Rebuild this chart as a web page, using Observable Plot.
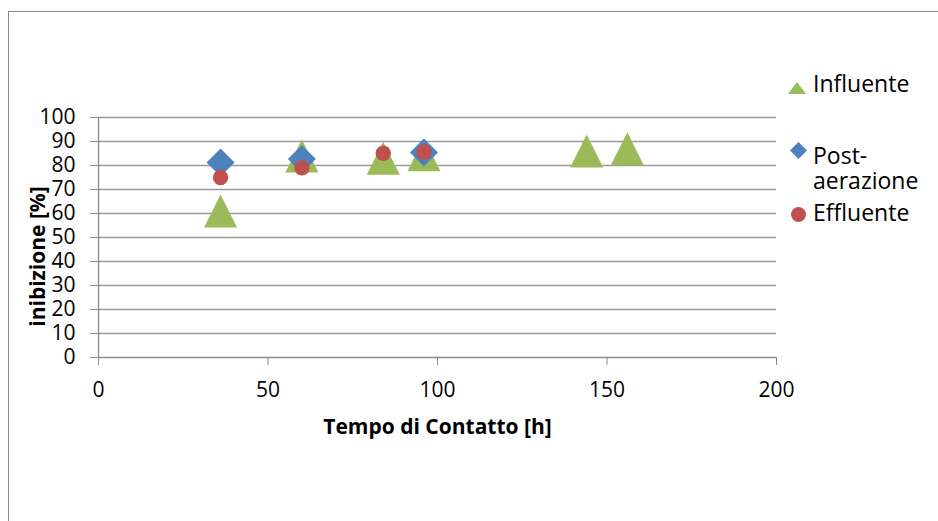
<!DOCTYPE html>
<html>
<head>
<meta charset="utf-8">
<script src="https://cdn.jsdelivr.net/npm/d3@7"></script>
<script src="https://cdn.jsdelivr.net/npm/@observablehq/plot@0.6"></script>
<style>
  html, body { margin: 0; padding: 0; background: #fff; }
  #wrap { position: relative; width: 938px; height: 521px; overflow: hidden; font-family: "Open Sans", sans-serif; }
  #frame { position: absolute; left: 8px; top: 11px; width: 2000px; height: 2000px; border: 1.5px solid #8a8a8a; box-sizing: border-box; }
  #chart { position: absolute; left: 0; top: 0; }
  .lg { position: absolute; left: 813px; font-size: 23px; line-height: 25px; color: #000; white-space: nowrap; }
  .ic { position: absolute; }
</style>
</head>
<body>
<div id="wrap">
  <div id="frame"></div>
  <div id="chart"></div>
</div>
<script>
// ---- data ----
const xTicks = [0, 50, 100, 150, 200];
const yTicks = [0, 10, 20, 30, 40, 50, 60, 70, 80, 90, 100];

const influenteX = [36, 60, 84, 96, 144, 156];
const influenteY = [61, 84, 83, 84.5, 86, 87];

const postX = [36, 60, 96];
const postY = [81.3, 82.7, 85.4];

const effluenteX = [36, 60, 84, 96];
const effluenteY = [75, 79, 85.1, 85.6];

const seriesNames = ["Influente", "Post-aerazione", "Effluente"];
const seriesColors = ["#9BBB59", "#4F81BD", "#C0504D"];

// ---- build tables ----
const zip = (xs, ys) => xs.map((x, i) => ({x, y: ys[i]}));
const influente = zip(influenteX, influenteY);
const post = zip(postX, postY);
const effluente = zip(effluenteX, effluenteY);

const TRI = {draw(ctx, size) { const r = Math.sqrt(size / Math.PI); ctx.moveTo(0, -r); ctx.lineTo(r, r); ctx.lineTo(-r, r); ctx.closePath(); }};
const DIA = {draw(ctx, size) { const r = Math.sqrt(size / Math.PI); ctx.moveTo(0, -r); ctx.lineTo(r, 0); ctx.lineTo(0, r); ctx.lineTo(-r, 0); ctx.closePath(); }};

const chart = Plot.plot({
  width: 938,
  height: 521,
  marginLeft: 98,
  marginRight: 162,
  marginTop: 117,
  marginBottom: 164,
  style: {fontFamily: "'Open Sans', sans-serif", fontSize: "21px", color: "#000", background: "transparent", overflow: "visible"},
  x: {domain: [0, 200]},
  y: {domain: [0, 100]},
  marks: [
    Plot.gridY(yTicks.filter(d => d > 0), {stroke: "#9a9a9a", strokeOpacity: 1, strokeWidth: 1.3}),
    Plot.ruleY([0], {stroke: "#8a8a8a", strokeWidth: 1.3}),
    Plot.ruleX([0], {stroke: "#8a8a8a", strokeWidth: 1.3}),
    Plot.axisX({ticks: xTicks, tickSize: 8, tickPadding: 17, stroke: "#8a8a8a", fill: "#000", label: null, tickFormat: d => String(d)}),
    Plot.axisY({ticks: yTicks, tickSize: 8, tickPadding: 15, stroke: "#8a8a8a", fill: "#000", label: null, tickFormat: d => String(d)}),
    Plot.text(["Tempo di Contatto [h]"], {frameAnchor: "bottom", textAnchor: "middle", lineAnchor: "middle", dy: 70, fontWeight: "bold", fill: "#000"}),
    Plot.text(["inibizione [%]"], {frameAnchor: "left", textAnchor: "middle", lineAnchor: "middle", rotate: -90, dx: -60, dy: 19, fontWeight: "bold", fill: "#000"}),
    Plot.dot(influente, {x: "x", y: "y", symbol: TRI, r: 16.5, fill: seriesColors[0], stroke: "none"}),
    Plot.dot(post, {x: "x", y: "y", symbol: DIA, r: 14, fill: seriesColors[1], stroke: "none"}),
    Plot.dot(effluente, {x: "x", y: "y", symbol: "circle", r: 7.7, fill: seriesColors[2], stroke: "none"})
  ]
});
document.getElementById("chart").appendChild(chart);

// ---- legend ----
const wrap = document.getElementById("wrap");
const legendItems = [
  {html: seriesNames[0], top: 71, icon: `<svg class="ic" style="left:788px;top:81.5px" width="18" height="12"><polygon points="9,0 18,12 0,12" fill="${seriesColors[0]}"/></svg>`},
  {html: "Post-<br>aerazione", top: 143, icon: `<svg class="ic" style="left:789.5px;top:141.5px" width="17" height="17"><polygon points="8.5,0 17,8.5 8.5,17 0,8.5" fill="${seriesColors[1]}"/></svg>`},
  {html: seriesNames[2], top: 200, icon: `<svg class="ic" style="left:790.5px;top:206.5px" width="15" height="15"><circle cx="7.5" cy="7.5" r="7.5" fill="${seriesColors[2]}"/></svg>`}
];
for (const it of legendItems) {
  const d = document.createElement("div");
  d.className = "lg";
  d.style.top = it.top + "px";
  d.innerHTML = it.html;
  wrap.appendChild(d);
  wrap.insertAdjacentHTML("beforeend", it.icon);
}
</script>
</body>
</html>
